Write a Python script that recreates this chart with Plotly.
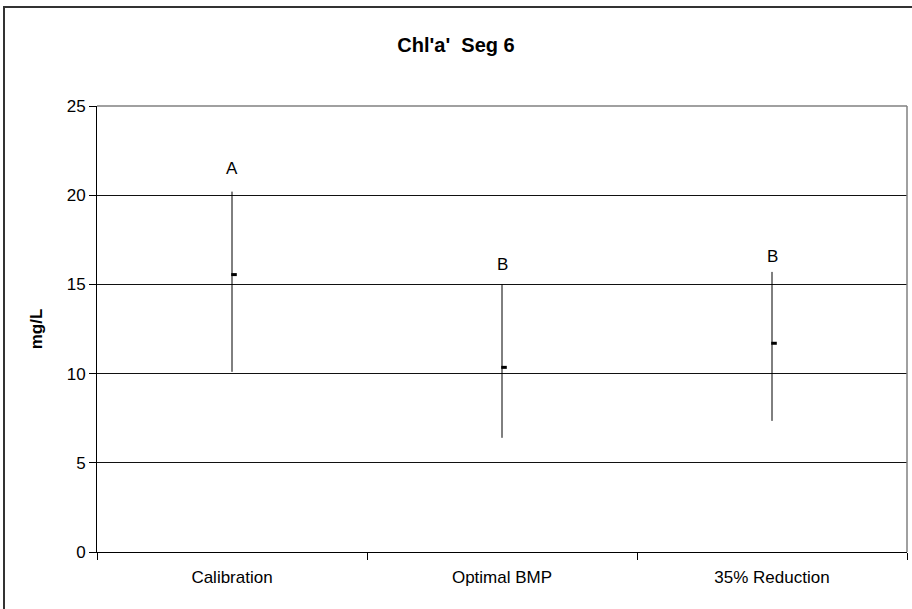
import plotly.graph_objects as go

categories = ["Calibration", "Optimal BMP", "35% Reduction"]
high_vals = [20.2, 15.0, 15.7]
low_vals = [10.1, 6.4, 7.35]
close_vals = [15.55, 10.35, 11.7]
group_letters = ["A", "B", "B"]
letter_y = [21.5, 16.1, 16.55]
y_ticks = [0, 5, 10, 15, 20, 25]

FONT = "Liberation Sans, Arial, sans-serif"

err_plus = [h - c for h, c in zip(high_vals, close_vals)]
err_minus = [c - l for c, l in zip(close_vals, low_vals)]

fig = go.Figure()

# high-low vertical lines
fig.add_trace(go.Scatter(
    x=categories, y=close_vals, mode="markers",
    marker=dict(size=1, color="rgba(0,0,0,0)"),
    error_y=dict(type="data", symmetric=False, array=err_plus, arrayminus=err_minus,
                 width=0, thickness=1, color="black"),
    showlegend=False, hoverinfo="skip",
))

# close ticks (drawn slightly right of the high-low line)
fig.add_trace(go.Scatter(
    x=categories, y=close_vals, mode="markers", xaxis="x2",
    marker=dict(symbol="line-ew", size=4, line=dict(width=3, color="black")),
    showlegend=False,
))

for cat, letter, ly in zip(categories, group_letters, letter_y):
    fig.add_annotation(x=cat, y=ly, text=letter, showarrow=False,
                       font=dict(family=FONT, size=17, color="black"))

plot_w = 810.0
plot_h = 446.0
shift = 2.0 / plot_w * 3

fig.update_layout(
    width=912, height=609,
    margin=dict(l=97, r=5, t=106, b=57),
    paper_bgcolor="white", plot_bgcolor="white",
    font=dict(family=FONT, size=17, color="black"),
    title=dict(text="<b>Chl'a'  Seg 6</b>", x=0.5, xanchor="center",
               y=1 - 45 / 609, yanchor="middle",
               font=dict(family=FONT, size=20, color="black")),
    xaxis=dict(type="category", categoryorder="array", categoryarray=categories,
               range=[-0.5, 2.5], showgrid=False, showline=True, linecolor="black",
               linewidth=1, ticks="outside", tickson="boundaries", ticklen=7,
               tickcolor="black", tickfont=dict(family=FONT, size=17, color="black"),
               ticklabelstandoff=10, zeroline=False),
    xaxis2=dict(type="category", categoryorder="array", categoryarray=categories,
                range=[-0.5 - shift, 2.5 - shift], overlaying="x", visible=False),
    yaxis=dict(range=[0, 25], tickvals=y_ticks, showgrid=True, gridcolor="#111111",
               gridwidth=1, showline=True, linecolor="black", linewidth=1,
               ticks="outside", ticklen=7, tickcolor="black", zeroline=False,
               tickfont=dict(family=FONT, size=17, color="black"),
               title=dict(text="<b>mg/L</b>", standoff=19,
                          font=dict(family=FONT, size=17, color="black"))),
    shapes=[
        dict(type="line", xref="paper", yref="paper", x0=0, x1=1, y0=1, y1=1,
             line=dict(color="#808080", width=1.5), layer="above"),
        dict(type="line", xref="paper", yref="paper", x0=1, x1=1, y0=0, y1=1,
             line=dict(color="#808080", width=1.5), layer="above"),
        dict(type="rect", xref="paper", yref="paper",
             x0=(4 - 97) / plot_w, x1=1.2, y0=-0.3, y1=(552 - 7) / plot_h,
             line=dict(color="#333333", width=2), layer="above"),
    ],
)

fig.write_html("out.html", config={"displayModeBar": False},
               post_script="document.body.style.margin='0';")
